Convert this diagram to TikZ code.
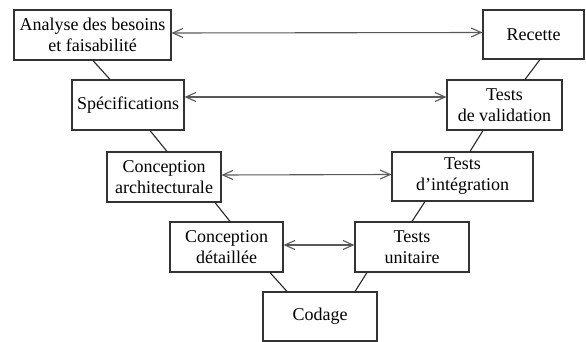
\documentclass[tikz,border=0pt]{standalone}
\usepackage{fontspec}
\setmainfont{Liberation Serif}
\usepackage{tikz}
\usetikzlibrary{arrows.meta}
\tikzset{
    phase/.style = {draw=black!80, line width=1.1pt, inner sep=1pt,
                 align=center, font=\fontsize{18}{21}\selectfont},
    link/.style = {draw=black!85, line width=1.1pt},
    both/.style = {draw=black!65, line width=1.1pt,
                 {Straight Barb[length=10pt,width=9pt]}-{Straight Barb[length=10pt,width=9pt]}},
}

\begin{document}
\begin{tikzpicture}[x=1pt,y=-1pt]
\useasboundingbox (0,0) rectangle (586,342);
 \node (analyse) [phase,minimum width=157pt,minimum height=50pt] at (92.5,35) {Analyse des besoins\\et faisabilité};
 \node (recette) [phase,minimum width=101pt,minimum height=49pt] at (533.5,34.5) {Recette};
 \node (spec)    [phase,minimum width=112pt,minimum height=50pt] at (128,105) {Spécifications};
 \node (valid)   [phase,minimum width=115pt,minimum height=50pt] at (504.5,105) {Tests\\de validation};
 \node (archi)   [phase,minimum width=114pt,minimum height=50pt] at (164,177) {Conception\\architecturale};
 \node (integ)   [phase,minimum width=141pt,minimum height=49pt] at (462.5,176.5) {Tests\\d’intégration};
 \node (detail)  [phase,minimum width=113pt,minimum height=50pt] at (226.5,247) {Conception\\détaillée};
 \node (unit)    [phase,minimum width=114pt,minimum height=50pt] at (412,247) {Tests\\unitaire};
 \node (codage)  [phase,minimum width=114pt,minimum height=49pt] at (320,316.5) {Codage};

% descente et remontee du cycle
\draw[link] ([xshift=0.5pt]analyse.south) -- ([xshift=-18pt]spec.north);
\draw[link] ([xshift=22pt]spec.south) -- ([xshift=3pt]archi.north);
\draw[link] ([xshift=51pt]archi.south) -- ([xshift=3.5pt]detail.north);
\draw[link] ([xshift=43.5pt]detail.south) -- ([xshift=-33pt]codage.north);
\draw[link] ([xshift=35pt]codage.north) -- ([xshift=-45pt]unit.south);
\draw[link] (unit.north) -- ([xshift=-37.5pt]integ.south);
\draw[link] ([xshift=7.5pt]integ.north) -- ([xshift=-21.5pt]valid.south);
\draw[link] ([xshift=20.5pt]valid.north) -- ([xshift=6.5pt]recette.south);

% correspondances
\draw[both] ([yshift=2pt]analyse.east) -- ([yshift=2pt]recette.west);
\draw[both] ([yshift=8pt]spec.east) -- ([yshift=8pt]valid.west);
\draw[both] ([yshift=2pt]archi.east) -- ([yshift=2pt]integ.west);
\draw[both] ([yshift=2pt]detail.east) -- ([yshift=2pt]unit.west);
\end{tikzpicture}
\end{document}
